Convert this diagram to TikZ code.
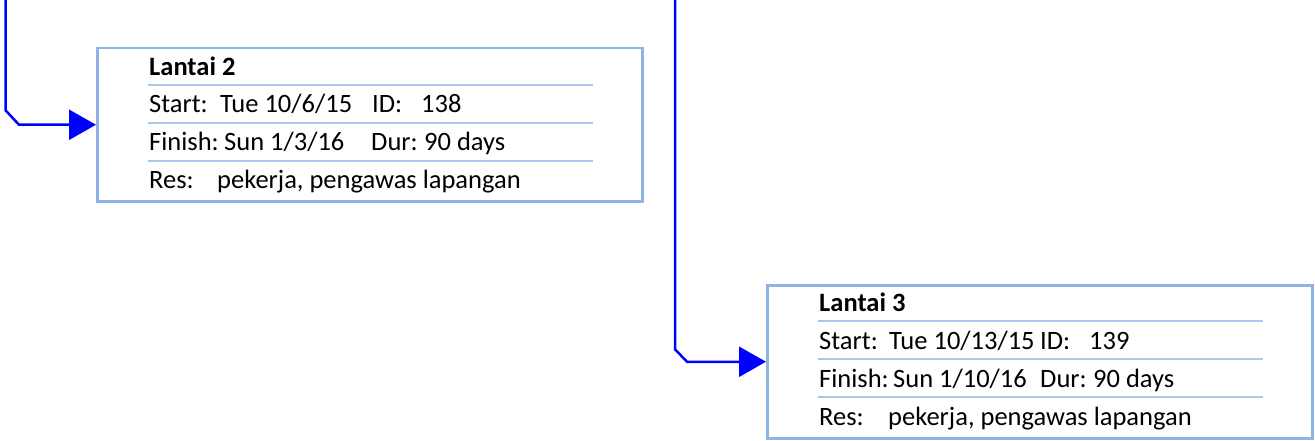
\documentclass[tikz,border=0pt]{standalone}
\usepackage{fontspec}
\setmainfont{Carlito}
\usetikzlibrary{arrows.meta,calc}
\definecolor{boxblue}{RGB}{141,180,226}
\definecolor{sepblue}{RGB}{170,200,238}
\definecolor{connblue}{RGB}{0,0,255}
\tikzset{
  taskbox/.style={draw=boxblue, line width=2.5pt, fill=white, rectangle, inner sep=0pt, minimum width=545pt, minimum height=153pt, anchor=north west},
  txt/.style={anchor=base west, inner sep=0pt, font=\fontsize{26.5}{30}\selectfont},
  sepline/.style={draw=sepblue, line width=1.8pt},
  conn/.style={draw=connblue, line width=2.5pt, -{Triangle[length=27pt,width=30pt]}},
}
\begin{document}
\begin{tikzpicture}[x=1pt,y=-1pt]
\useasboundingbox (0,0) rectangle (1315,441);
% box 1
\node[taskbox] (box1) at (96,47) {};
\node[txt] (b1title) at (149,75.5) {\bfseries Lantai 2};
\draw[sepline] (148,85) -- (593,85);
\node[txt] (b1start) at (149,113) {Start:};
\node[txt] (b1startv) at (220,113) {Tue 10/6/15};
\node[txt] (b1id) at (372,113) {ID:};
\node[txt] (b1idv) at (421,113) {138};
\draw[sepline] (148,123) -- (593,123);
\node[txt] (b1fin) at (149,151) {Finish:};
\node[txt] (b1finv) at (224,151) {Sun 1/3/16};
\node[txt] (b1dur) at (371,151) {Dur:};
\node[txt] (b1durv) at (424,151) {90 days};
\draw[sepline] (148,161) -- (593,161);
\node[txt] (b1res) at (149,189) {Res:};
\node[txt] (b1resv) at (217,189) {pekerja, pengawas lapangan};
% box 2
\node[taskbox] (box2) at (766,284) {};
\node[txt] (b2title) at (819,311.5) {\bfseries Lantai 3};
\draw[sepline] (818,321) -- (1263,321);
\node[txt] (b2start) at (819,349) {Start:};
\node[txt] (b2startv) at (889,349) {Tue 10/13/15};
\node[txt] (b2id) at (1040,349) {ID:};
\node[txt] (b2idv) at (1089,349) {139};
\draw[sepline] (818,359) -- (1263,359);
\node[txt] (b2fin) at (819,387) {Finish:};
\node[txt] (b2finv) at (893,387) {Sun 1/10/16};
\node[txt] (b2dur) at (1040,387) {Dur:};
\node[txt] (b2durv) at (1093,387) {90 days};
\draw[sepline] (818,397) -- (1263,397);
\node[txt] (b2res) at (819,425) {Res:};
\node[txt] (b2resv) at (888,425) {pekerja, pengawas lapangan};
% connectors
\coordinate (top1) at (5.5,-2);
\coordinate (top2) at (675,-2);
\draw[conn] (top1) -- ($(top1 |- box1.west)+(0,-14.5)$) -- ($(top1 |- box1.west)+(13.5,0)$) -- (box1.west);
\draw[conn] (top2) -- ($(top2 |- box2.west)+(0,-12.5)$) -- ($(top2 |- box2.west)+(12,0)$) -- (box2.west);
\end{tikzpicture}
\end{document}
